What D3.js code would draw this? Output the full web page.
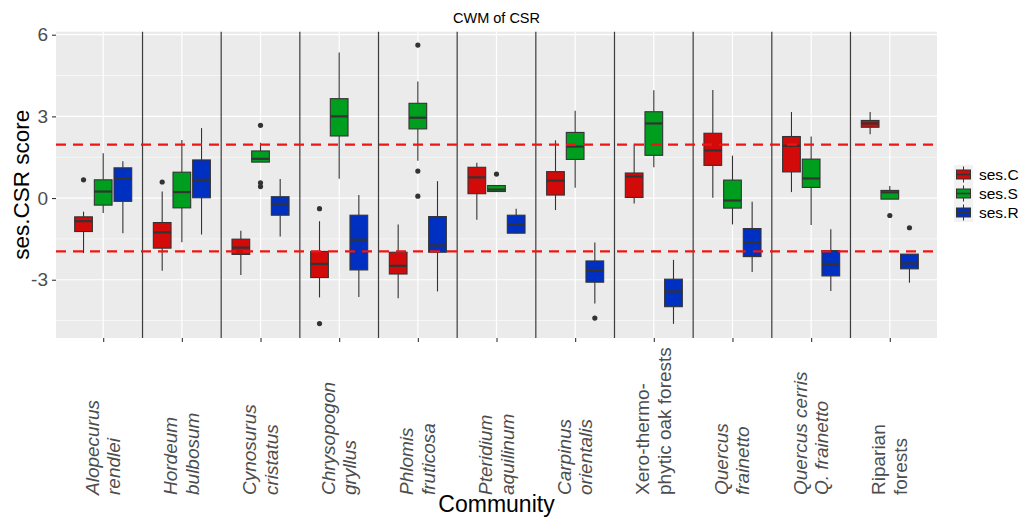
<!DOCTYPE html>
<html>
<head>
<meta charset="utf-8">
<script src="https://cdn.jsdelivr.net/npm/d3@7"></script>
<style>
  html, body { margin: 0; padding: 0; background: #fff; }
  svg { display: block; font-family: "Liberation Sans", Arial, sans-serif; }
</style>
</head>
<body>
<svg id="chart" width="1032" height="521"></svg>
<script>
// ---- data ----
const categories = [
  ["Alopecurus", "rendlei"],
  ["Hordeum", "bulbosum"],
  ["Cynosurus", "cristatus"],
  ["Chrysopogon", "gryllus"],
  ["Phlomis", "fruticosa"],
  ["Pteridium", "aquilinum"],
  ["Carpinus", "orientalis"],
  ["Xero-thermo-", "phytic oak forests"],
  ["Quercus", "frainetto"],
  ["Quercus cerris", "Q. frainetto"],
  ["Riparian", "forests"]
];
const italicCats = [true, true, true, true, true, true, true, false, true, true, false];
const seriesNames = ["ses.C", "ses.S", "ses.R"];
const seriesColors = ["#D20A0A", "#009E1E", "#0030C2"];

// [lower whisker, Q1, median, Q3, upper whisker] per category
const sesC = [
  [-2.02, -1.23, -0.85, -0.69, -0.50],
  [-2.67, -1.84, -1.26, -0.90, 0.24],
  [-2.83, -2.07, -1.82, -1.51, -1.20],
  [-3.65, -2.92, -2.42, -1.96, -0.85],
  [-3.68, -2.79, -2.49, -1.99, -0.97],
  [-0.80, 0.16, 0.76, 1.13, 1.30],
  [-0.44, 0.11, 0.64, 0.97, 2.12],
  [-0.20, 0.02, 0.79, 0.92, 1.99],
  [0.01, 1.20, 1.75, 2.38, 3.97],
  [0.22, 0.96, 1.92, 2.26, 3.16],
  [2.34, 2.60, 2.74, 2.85, 3.16]
];
const sesS = [
  [-0.55, -0.26, 0.24, 0.67, 1.65],
  [-1.62, -0.36, 0.22, 0.95, 2.13],
  [1.32, 1.32, 1.44, 1.73, 2.03],
  [0.71, 2.28, 3.00, 3.65, 5.35],
  [1.37, 2.54, 2.95, 3.48, 4.28],
  [0.24, 0.24, 0.31, 0.46, 0.46],
  [0.38, 1.42, 1.89, 2.41, 3.21],
  [1.13, 1.57, 2.74, 3.17, 3.96],
  [-0.97, -0.37, -0.09, 0.66, 1.56],
  [-0.99, 0.39, 0.72, 1.43, 2.26],
  [-0.04, -0.04, 0.21, 0.28, 0.44]
];
const sesR = [
  [-1.29, -0.12, 0.72, 1.11, 1.35],
  [-1.34, 0.01, 0.67, 1.40, 2.57],
  [-1.41, -0.63, -0.21, 0.05, 0.70],
  [-3.63, -2.64, -1.53, -0.63, 0.11],
  [-3.43, -1.99, -1.74, -0.68, 0.62],
  [-1.31, -1.29, -0.98, -0.63, -0.39],
  [-3.87, -3.09, -2.64, -2.31, -1.63],
  [-4.62, -3.99, -3.43, -2.98, -2.27],
  [-2.72, -2.15, -1.63, -1.12, -0.14],
  [-3.41, -2.86, -2.42, -1.93, -1.15],
  [-3.11, -2.60, -2.40, -2.06, -2.06]
];
// outliers: [categoryIndex, value]
const outC = [[0, 0.67], [1, 0.59], [3, -0.39], [3, -4.61]];
const outS = [[2, 2.67], [2, 0.56], [2, 0.42], [4, 5.62], [4, 0.99], [4, 0.07], [5, 0.88], [10, -0.64]];
const outR = [[6, -4.41], [10, -1.09]];

const yTicks = [6, 3, 0, -3];
const yMinor = [4.5, 1.5, -1.5, -4.5];
const threshold = [1.96, -1.96];

// ---- layout ----
const svg = d3.select("#chart");
const P = { left: 56, right: 937, top: 31.7, bottom: 338 };

const x = d3.scalePoint().domain(d3.range(categories.length)).range([P.left, P.right]).padding(0.6);
const step = x.step();
const y = d3.scaleLinear().domain([-5.14, 6.11]).range([P.bottom, P.top]);

// panel
svg.append("rect").attr("x", P.left).attr("y", P.top)
  .attr("width", P.right - P.left).attr("height", P.bottom - P.top).attr("fill", "#EBEBEB");

// grid
const grid = svg.append("g");
grid.selectAll(".minor").data(yMinor).enter().append("line")
  .attr("x1", P.left).attr("x2", P.right).attr("y1", d => y(d)).attr("y2", d => y(d))
  .attr("stroke", "#fff").attr("stroke-width", 0.6);
grid.selectAll(".major").data(yTicks).enter().append("line")
  .attr("x1", P.left).attr("x2", P.right).attr("y1", d => y(d)).attr("y2", d => y(d))
  .attr("stroke", "#fff").attr("stroke-width", 1.2);
grid.selectAll(".vmajor").data(d3.range(categories.length)).enter().append("line")
  .attr("y1", P.top).attr("y2", P.bottom).attr("x1", d => x(d)).attr("x2", d => x(d))
  .attr("stroke", "#fff").attr("stroke-width", 1.2);

// boxes
const allSeries = [sesC, sesS, sesR];
const allOut = [outC, outS, outR];
const offsets = [-0.25, 0, 0.25];
const boxW = 0.225 * step;
const strokeCol = "#333333";

allSeries.forEach((ser, si) => {
  const g = svg.append("g");
  ser.forEach((s, ci) => {
    const cx = x(ci) + offsets[si] * step;
    const [lo, q1, med, q3, hi] = s;
    if (hi > q3) g.append("line").attr("x1", cx).attr("x2", cx).attr("y1", y(q3)).attr("y2", y(hi))
      .attr("stroke", strokeCol).attr("stroke-width", 1.1);
    if (lo < q1) g.append("line").attr("x1", cx).attr("x2", cx).attr("y1", y(q1)).attr("y2", y(lo))
      .attr("stroke", strokeCol).attr("stroke-width", 1.1);
    g.append("rect").attr("x", cx - boxW / 2).attr("width", boxW)
      .attr("y", y(q3)).attr("height", y(q1) - y(q3))
      .attr("fill", seriesColors[si]).attr("stroke", strokeCol).attr("stroke-width", 1.1);
    g.append("line").attr("x1", cx - boxW / 2).attr("x2", cx + boxW / 2)
      .attr("y1", y(med)).attr("y2", y(med)).attr("stroke", strokeCol).attr("stroke-width", 2.2);
  });
  g.selectAll("circle").data(allOut[si]).enter().append("circle")
    .attr("cx", d => x(d[0]) + offsets[si] * step).attr("cy", d => y(d[1]))
    .attr("r", 2.6).attr("fill", strokeCol);
});

// separator lines
svg.append("g").selectAll("line").data(d3.range(categories.length - 1)).enter().append("line")
  .attr("x1", d => (x(d) + x(d + 1)) / 2).attr("x2", d => (x(d) + x(d + 1)) / 2)
  .attr("y1", P.top).attr("y2", P.bottom).attr("stroke", "#3c3c3c").attr("stroke-width", 1.2);

// threshold dashed lines
svg.append("g").selectAll("line").data(threshold).enter().append("line")
  .attr("x1", P.left).attr("x2", P.right).attr("y1", d => y(d)).attr("y2", d => y(d))
  .attr("stroke", "#F01414").attr("stroke-width", 2.2).attr("stroke-dasharray", "10,7");

// y axis
const yAxis = svg.append("g").attr("transform", `translate(${P.left},0)`)
  .call(d3.axisLeft(y).tickValues(yTicks).tickSize(4).tickPadding(4).tickFormat(d3.format("d")));
yAxis.select(".domain").remove();
yAxis.selectAll(".tick line").attr("stroke", "#333").attr("stroke-width", 1.1);
yAxis.selectAll(".tick text").attr("fill", "#4D4D4D").style("font-size", "19px")
  .style("font-family", "'Liberation Sans', Arial, sans-serif").text(d => d < 0 ? "-" + Math.abs(d) : d);

// x axis
const xAxis = svg.append("g").attr("transform", `translate(0,${P.bottom})`)
  .call(d3.axisBottom(x).tickSize(4).tickFormat(""));
xAxis.select(".domain").remove();
xAxis.selectAll(".tick line").attr("stroke", "#333").attr("stroke-width", 1.1);

// x tick labels (two lines, vertical)
categories.forEach((lines, ci) => {
  const t = svg.append("text")
    .attr("transform", `translate(${x(ci)},495) rotate(-90)`)
    .attr("text-anchor", "start").attr("fill", "#4D4D4D")
    .style("font-size", "19px").style("font-style", italicCats[ci] ? "italic" : "normal");
  t.append("tspan").attr("x", 0).attr("y", -4.5).text(lines[0]);
  t.append("tspan").attr("x", 0).attr("y", 17).text(lines[1]);
});

// titles
svg.append("text").attr("x", (P.left + P.right) / 2).attr("y", 23).attr("text-anchor", "middle")
  .style("font-size", "14.5px").attr("fill", "#000").text("CWM of CSR");
svg.append("text").attr("x", (P.left + P.right) / 2).attr("y", 512).attr("text-anchor", "middle")
  .style("font-size", "23px").attr("fill", "#000").text("Community");
svg.append("text").attr("transform", `translate(29,${(P.top + P.bottom) / 2}) rotate(-90)`)
  .attr("text-anchor", "middle").style("font-size", "22.5px").attr("fill", "#000").text("ses.CSR score");

// legend
const leg = svg.append("g").attr("transform", "translate(954,165)");
const keyH = 19, keyW = 19;
seriesNames.forEach((name, i) => {
  const gy = i * keyH;
  leg.append("rect").attr("x", 0).attr("y", gy).attr("width", keyW).attr("height", keyH).attr("fill", "#F2F2F2");
  const cx = keyW / 2;
  leg.append("line").attr("x1", cx).attr("x2", cx).attr("y1", gy + 1.5).attr("y2", gy + keyH - 1.5)
    .attr("stroke", strokeCol).attr("stroke-width", 1);
  leg.append("rect").attr("x", 2.5).attr("y", gy + 5).attr("width", keyW - 5).attr("height", keyH - 10)
    .attr("fill", seriesColors[i]).attr("stroke", strokeCol).attr("stroke-width", 1);
  leg.append("line").attr("x1", 2.5).attr("x2", keyW - 2.5).attr("y1", gy + keyH / 2).attr("y2", gy + keyH / 2)
    .attr("stroke", strokeCol).attr("stroke-width", 1.6);
  leg.append("text").attr("x", keyW + 6).attr("y", gy + keyH / 2).attr("dy", "0.36em")
    .style("font-size", "15.5px").attr("fill", "#000").text(name);
});
</script>
</body>
</html>
